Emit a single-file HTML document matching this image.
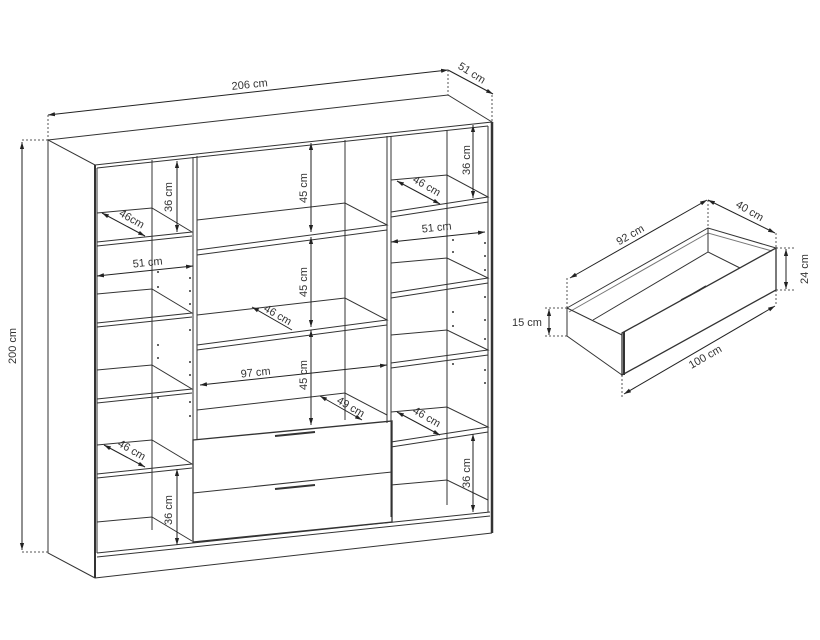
<!DOCTYPE html>
<html><head><meta charset="utf-8"><style>
html,body{margin:0;padding:0;background:#fff}
svg{display:block}
text{font-family:"Liberation Sans",sans-serif;font-size:11px;fill:#333}
</style></head><body>
<svg width="820" height="640" viewBox="0 0 820 640" xmlns="http://www.w3.org/2000/svg">
<defs>
<marker id="a" viewBox="0 0 10 10" refX="10" refY="5" markerWidth="7" markerHeight="7" orient="auto-start-reverse"><path d="M0,2 L10,5 L0,8 z" fill="#222"/></marker>
</defs>
<g fill="none" stroke="#333" stroke-width="1">
<path d="M48,140 L448,95 L492,122 L95,165 Z"/>
<path d="M48,140 L48,553 L95,578"/>
<path d="M95,165 L95,578" stroke-width="2"/>
<path d="M492,122 L492,533" stroke-width="2.5"/>
<path d="M488,126 L488,512"/>
<path d="M97,168 L488,126"/>
<path d="M97,168 L97,553"/>
<path d="M97,553 L490,512 M97,557 L490,516 M95,578 L492,533"/>
<path d="M193,157 L193,540 M197,156 L197,440"/>
<path d="M387,136 L387,423 M391,136 L391,517"/>
<path d="M152,160 L152,530 M345,140 L345,420 M447,130 L447,505"/>
<g>
<path d="M97,213 L152,208 L192,232 L97,242 M97,246 L192,236"/>
<path d="M97,294 L152,289 L192,313 L97,323 M97,327 L192,317"/>
<path d="M97,370 L152,365 L192,389 L97,399 M97,403 L192,393"/>
<path d="M97,445 L152,440 L192,464 L97,474 M97,478 L192,468"/>
<path d="M97,522 L152,517 L192,541"/>
</g>
<path d="M197,220 L345,203 L387,225 L197,250 M197,255 L387,230"/>
<path d="M197,315 L345,298 L387,320 L197,345 M197,350 L387,325"/>
<path d="M197,410 L345,393 L387,415"/>
<path d="M193,440 L392,421 L392,522 L193,542 Z" stroke-width="1.3"/>
<path d="M193,493 L392,472"/>
<path d="M275,436 L315,432 M275,489 L315,485" stroke-width="2"/>
<path d="M391,180 L447,175 L488,197 L391,212 M391,217 L488,202"/>
<path d="M391,263 L447,258 L488,278 L391,293 M391,298 L488,283"/>
<path d="M391,335 L447,330 L488,350 L391,363 M391,368 L488,355"/>
<path d="M391,412 L447,407 L488,427 L391,442 M391,447 L488,432"/>
<path d="M391,485 L447,480 L488,500"/>
</g>
<g fill="#333">
<circle cx="158" cy="272" r="1"/><circle cx="158" cy="287" r="1"/><circle cx="190" cy="278" r="1"/><circle cx="190" cy="291" r="1"/><circle cx="190" cy="304" r="1"/><circle cx="190" cy="330" r="1"/><circle cx="158" cy="345" r="1"/><circle cx="158" cy="358" r="1"/><circle cx="190" cy="362" r="1"/><circle cx="190" cy="375" r="1"/><circle cx="158" cy="398" r="1"/><circle cx="190" cy="402" r="1"/><circle cx="190" cy="416" r="1"/>
<circle cx="453" cy="240" r="1"/><circle cx="453" cy="252" r="1"/><circle cx="485" cy="243" r="1"/><circle cx="485" cy="256" r="1"/><circle cx="485" cy="270" r="1"/><circle cx="485" cy="297" r="1"/><circle cx="453" cy="312" r="1"/><circle cx="453" cy="326" r="1"/><circle cx="485" cy="320" r="1"/><circle cx="485" cy="339" r="1"/><circle cx="485" cy="370" r="1"/><circle cx="453" cy="364" r="1"/><circle cx="485" cy="383" r="1"/>
</g>
<g stroke="#222" stroke-width="1" fill="none">
<path d="M48,115 L448,70" marker-start="url(#a)" marker-end="url(#a)"/>
<path d="M448,70 L493,94" marker-end="url(#a)"/>
<path d="M22,142 L22,550" marker-start="url(#a)" marker-end="url(#a)"/>
<path d="M177,161 L177,232" marker-start="url(#a)" marker-end="url(#a)"/>
<path d="M102,213 L145,236" marker-start="url(#a)" marker-end="url(#a)"/>
<path d="M97,276 L193,266" marker-start="url(#a)" marker-end="url(#a)"/>
<path d="M104,445 L145,467" marker-start="url(#a)" marker-end="url(#a)"/>
<path d="M177,469 L177,545" marker-start="url(#a)" marker-end="url(#a)"/>
<path d="M311,143 L311,232" marker-start="url(#a)" marker-end="url(#a)"/>
<path d="M311,237 L311,327" marker-start="url(#a)" marker-end="url(#a)"/>
<path d="M311,330 L311,425" marker-start="url(#a)" marker-end="url(#a)"/>
<path d="M252,307 L292,330" marker-start="url(#a)"/>
<path d="M200,385 L387,365" marker-start="url(#a)" marker-end="url(#a)"/>
<path d="M320,396 L362,420" marker-start="url(#a)" marker-end="url(#a)"/>
<path d="M473,125 L473,198" marker-start="url(#a)" marker-end="url(#a)"/>
<path d="M397,181 L440,204" marker-start="url(#a)" marker-end="url(#a)"/>
<path d="M391,242 L485,232" marker-start="url(#a)" marker-end="url(#a)"/>
<path d="M397,412 L440,435" marker-start="url(#a)" marker-end="url(#a)"/>
<path d="M473,434 L473,512" marker-start="url(#a)" marker-end="url(#a)"/>
</g>
<g stroke="#555" stroke-width="1" stroke-dasharray="2,2" fill="none">
<path d="M48,115 L48,140 M448,70 L448,95 M492,95 L492,122 M22,140 L48,140 M22,552 L48,552"/>
<path d="M567,278 L567,308 M708,200 L708,228 M776,233 L776,248 M776,290 L776,305 M622,375 L622,398 M776,248 L795,248 M776,290 L795,290 M545,308 L567,308 M545,336 L567,336"/>
</g>
<text x="250" y="88" text-anchor="middle" transform="rotate(-6 250 88)">206 cm</text>
<text x="470" y="76" text-anchor="middle" transform="rotate(32 470 76)">51 cm</text>
<text x="16" y="346" text-anchor="middle" transform="rotate(-90 16 346)">200 cm</text>
<text x="172" y="197" text-anchor="middle" transform="rotate(-90 172 197)">36 cm</text>
<text x="130" y="222" text-anchor="middle" transform="rotate(30 130 222)">46cm</text>
<text x="148" y="266" text-anchor="middle" transform="rotate(-6 148 266)">51 cm</text>
<text x="130" y="453" text-anchor="middle" transform="rotate(30 130 453)">46 cm</text>
<text x="172" y="510" text-anchor="middle" transform="rotate(-90 172 510)">36 cm</text>
<text x="307" y="188" text-anchor="middle" transform="rotate(-90 307 188)">45 cm</text>
<text x="307" y="282" text-anchor="middle" transform="rotate(-90 307 282)">45 cm</text>
<text x="307" y="375" text-anchor="middle" transform="rotate(-90 307 375)">45 cm</text>
<text x="276" y="318" text-anchor="middle" transform="rotate(30 276 318)">46 cm</text>
<text x="256" y="376" text-anchor="middle" transform="rotate(-6 256 376)">97 cm</text>
<text x="349" y="410" text-anchor="middle" transform="rotate(30 349 410)">49 cm</text>
<text x="470" y="160" text-anchor="middle" transform="rotate(-90 470 160)">36 cm</text>
<text x="425" y="189" text-anchor="middle" transform="rotate(30 425 189)">46 cm</text>
<text x="437" y="231" text-anchor="middle" transform="rotate(-6 437 231)">51 cm</text>
<text x="425" y="420" text-anchor="middle" transform="rotate(30 425 420)">46 cm</text>
<text x="470" y="473" text-anchor="middle" transform="rotate(-90 470 473)">36 cm</text>
<g fill="none" stroke="#333" stroke-width="1">
<path d="M567,308 L708,228 L776,248"/>
<path d="M569,312 L708,233 L772,251" stroke="#777"/>
<path d="M567,308 L567,336 L622,375"/>
<path d="M567,308 L622,335"/>
<path d="M708,228 L708,252 L740,268 M708,252 L593,320"/>
<path d="M622,333 L776,248 L776,290 L622,375 Z" stroke-width="1.3"/>
<path d="M624,332 L624,375" stroke-width="2"/>
<path d="M681,300 L700,290 M689,296 L706,286" stroke-width="1.5"/>
</g>
<g stroke="#222" stroke-width="1" fill="none">
<path d="M570,278 L707,200" marker-start="url(#a)" marker-end="url(#a)"/>
<path d="M708,200 L775,233" marker-start="url(#a)" marker-end="url(#a)"/>
<path d="M786,249 L786,289" marker-start="url(#a)" marker-end="url(#a)"/>
<path d="M549,309 L549,335" marker-start="url(#a)" marker-end="url(#a)"/>
<path d="M624,394 L775,306" marker-start="url(#a)" marker-end="url(#a)"/>
</g>
<text x="632" y="238" text-anchor="middle" transform="rotate(-30 632 238)">92 cm</text>
<text x="748" y="214" text-anchor="middle" transform="rotate(30 748 214)">40 cm</text>
<text x="808" y="269" text-anchor="middle" transform="rotate(-90 808 269)">24 cm</text>
<text x="527" y="326" text-anchor="middle">15 cm</text>
<text x="707" y="360" text-anchor="middle" transform="rotate(-30 707 360)">100 cm</text>
</svg>
</body></html>
